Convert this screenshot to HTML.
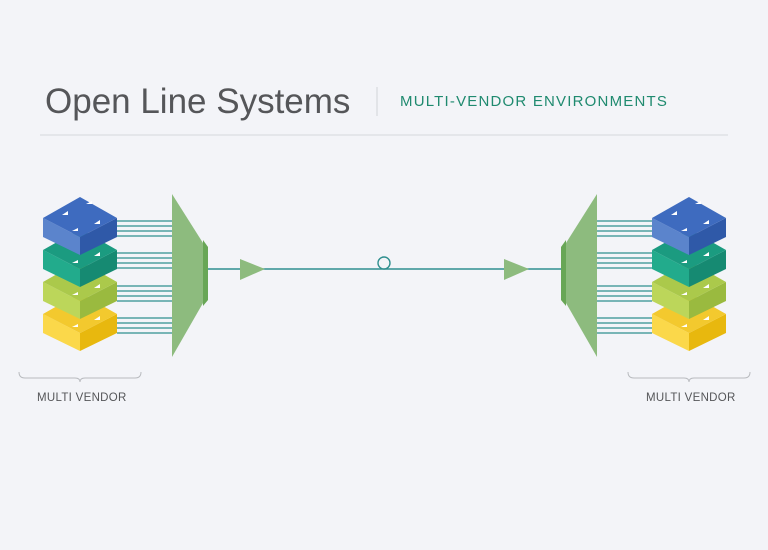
<!DOCTYPE html>
<html><head><meta charset="utf-8"><style>
html,body{margin:0;padding:0;background:#f3f4f8;}
svg{display:block}
text{font-family:"Liberation Sans",sans-serif}
</style></head><body>
<svg width="768" height="550" viewBox="0 0 768 550" xmlns="http://www.w3.org/2000/svg">
<rect width="768" height="550" fill="#f3f4f8"/>
<text x="45" y="113" font-size="35" fill="#555659">Open Line Systems</text>
<line x1="377" y1="87" x2="377" y2="116" stroke="#d2d4d8" stroke-width="1"/>
<text x="400" y="106" font-size="15" letter-spacing="1.2" fill="#1f8a6f">MULTI-VENDOR ENVIRONMENTS</text>
<line x1="40" y1="135" x2="728" y2="135" stroke="#dcdde1" stroke-width="1.2"/>

<defs>
<g id="blocks">
  <g transform="translate(0,96)">
    <polygon points="43,218 80,237 80,255 43,237" fill="#fbd84a"/>
    <polygon points="80,237 117,218 117,237 80,255" fill="#e8b80e"/>
    <polygon points="80,197 117,218 80,237 43,218" fill="#f3c92e"/>
  </g>
  <g transform="translate(0,64)">
    <polygon points="43,218 80,237 80,255 43,237" fill="#bcd65a"/>
    <polygon points="80,237 117,218 117,237 80,255" fill="#9aba3f"/>
    <polygon points="80,197 117,218 80,237 43,218" fill="#abc94b"/>
  </g>
  <g transform="translate(0,32)">
    <polygon points="43,218 80,237 80,255 43,237" fill="#22ab8c"/>
    <polygon points="80,237 117,218 117,237 80,255" fill="#168a72"/>
    <polygon points="80,197 117,218 80,237 43,218" fill="#1b9b80"/>
  </g>
  <g>
    <polygon points="43,218 80,237 80,255 43,237" fill="#5b84cc"/>
    <polygon points="80,237 117,218 117,237 80,255" fill="#2f59a8"/>
    <polygon points="80,197 117,218 80,237 43,218" fill="#3e6bbf"/>
  </g>
  <g fill="#fff">
    <polygon points="62,215 68,211 68,215"/><polygon points="86,204 92,201 92,204"/>
    <polygon points="94,224 100,220 100,224"/><polygon points="72,231 78,228 78,231"/>
    <polygon points="94,256 100,252 100,256"/><polygon points="72,263 78,260 78,263"/>
    <polygon points="94,288 100,284 100,288"/><polygon points="72,295 78,292 78,295"/>
    <polygon points="94,320 100,316 100,320"/><polygon points="72,327 78,324 78,327"/>
  </g>
</g>
<g id="side">
  <g stroke="#2f8f8f" stroke-width="1.3">
    <line x1="117" y1="221" x2="174" y2="221"/><line x1="117" y1="226" x2="174" y2="226"/>
    <line x1="117" y1="231" x2="174" y2="231"/><line x1="117" y1="236" x2="174" y2="236"/>
    <line x1="117" y1="253" x2="174" y2="253"/><line x1="117" y1="258" x2="174" y2="258"/>
    <line x1="117" y1="263" x2="174" y2="263"/><line x1="117" y1="268" x2="174" y2="268"/>
    <line x1="117" y1="286" x2="174" y2="286"/><line x1="117" y1="291" x2="174" y2="291"/>
    <line x1="117" y1="296" x2="174" y2="296"/><line x1="117" y1="301" x2="174" y2="301"/>
    <line x1="117" y1="318" x2="174" y2="318"/><line x1="117" y1="323" x2="174" y2="323"/>
    <line x1="117" y1="328" x2="174" y2="328"/><line x1="117" y1="333" x2="174" y2="333"/>
  </g>
  <polygon points="172,194 203,243 203,303 172,357" fill="#8dbb7e"/>
  <polygon points="203,240 208,247 208,300 203,306" fill="#68a656"/>
  <path d="M19,372 Q19,378 25,378 L75,378 Q80,378 80,382 Q80,378 85,378 L135,378 Q141,378 141,372" fill="none" stroke="#b8babe" stroke-width="1"/>
</g>
</defs>

<use href="#side"/>
<use href="#side" transform="translate(769,0) scale(-1,1)"/>
<use href="#blocks"/>
<use href="#blocks" transform="translate(609,0)"/>

<line x1="208" y1="269" x2="561" y2="269" stroke="#2f8f8f" stroke-width="1.4"/>
<polygon points="240,259 265,269 240,280" fill="#8dbb7e"/>
<polygon points="504,259 529,269 504,280" fill="#8dbb7e"/>
<circle cx="384" cy="263" r="6" fill="#f3f4f8" stroke="#2f8f8f" stroke-width="1.4"/>

<text x="37" y="401" font-size="11.5" letter-spacing="0.3" fill="#555659">MULTI VENDOR</text>
<text x="646" y="401" font-size="11.5" letter-spacing="0.3" fill="#555659">MULTI VENDOR</text>
</svg>
</body></html>
